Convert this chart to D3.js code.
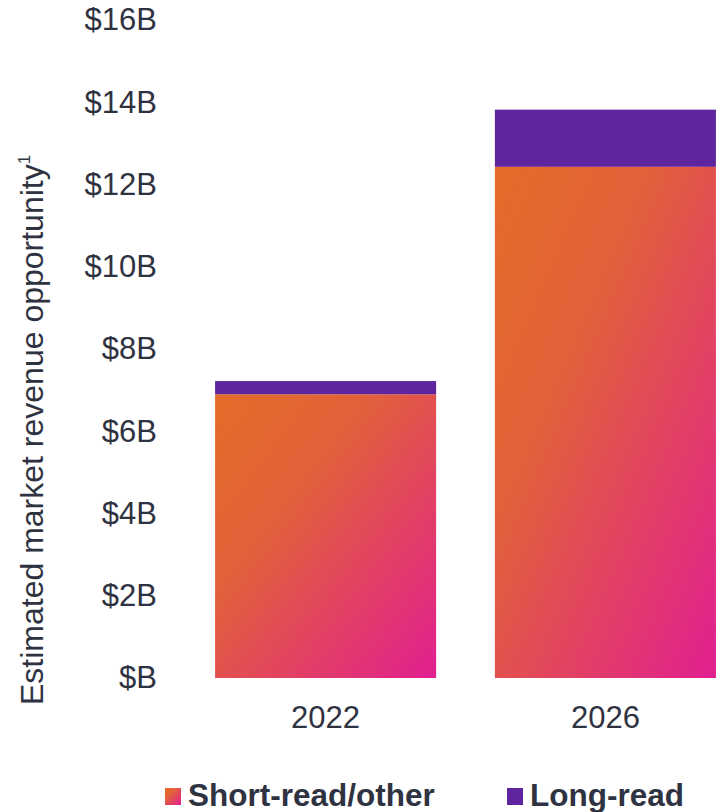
<!DOCTYPE html>
<html>
<head>
<meta charset="utf-8">
<script src="https://cdn.jsdelivr.net/npm/d3@7"></script>
<style>
  body { margin: 0; background: #fff; }
  text { font-family: "Liberation Sans", Arial, sans-serif; fill: #2f3341; }
</style>
</head>
<body>
<div id="chart"></div>
<script>
// chart values
var years = ["2022", "2026"]
var shortRead = [6.9, 12.43]
var longRead = [0.32, 1.39]
var yTicks = [0, 2, 4, 6, 8, 10, 12, 14, 16]
var seriesNames = ["Short-read/other", "Long-read"]

var W = 721, H = 812
var svg = d3.select("#chart").append("svg")
    .attr("width", W)
    .attr("height", H)

// gradient for the short-read bars
var defs = svg.append("defs")
var grad = defs.append("linearGradient")
    .attr("id", "shortGrad")
    .attr("x1", 0).attr("y1", 0).attr("x2", 1).attr("y2", 1)
grad.append("stop").attr("offset", "0%").attr("stop-color", "#e46c28")
grad.append("stop").attr("offset", "35%").attr("stop-color", "#e2613a")
grad.append("stop").attr("offset", "100%").attr("stop-color", "#e11f90")

var purple = "#5e259f"

var y = d3.scaleLinear().domain([0, 16]).range([678, 20])
var x = d3.scaleBand().domain(years).range([205, 726])
    .paddingInner(0.21).paddingOuter(0.036)

// y axis (labels only)
var yAxis = svg.append("g")
    .attr("transform", "translate(157,0)")
    .call(d3.axisLeft(y).tickValues(yTicks).tickSize(0).tickPadding(0)
        .tickFormat(function(d){ return "$" + (d === 0 ? "" : d) + "B" }))
yAxis.select(".domain").remove()
yAxis.selectAll("text")
    .style("font-size", "31px")
    .attr("fill", "#2f3341")

// x axis (labels only)
var xAxis = svg.append("g")
    .attr("transform", "translate(0,678)")
    .call(d3.axisBottom(x).tickSize(0).tickPadding(0))
xAxis.select(".domain").remove()
xAxis.selectAll("text")
    .style("font-size", "31px")
    .attr("fill", "#2f3341")
    .attr("dy", null)
    .attr("y", 50)

// y title
var title = svg.append("text")
    .attr("transform", "translate(43,705) rotate(-90)")
    .attr("text-anchor", "start")
    .style("font-size", "32px")
title.append("tspan").text("Estimated market revenue opportunity")
title.append("tspan").text("1")
    .style("font-size", "17px")
    .attr("dy", -13)

// bars
svg.selectAll(".short")
    .data(years)
    .enter()
    .append("rect")
    .attr("class", "short")
    .attr("x", function(d){ return x(d) })
    .attr("width", x.bandwidth())
    .attr("y", function(d, i){ return y(shortRead[i]) })
    .attr("height", function(d, i){ return y(0) - y(shortRead[i]) })
    .attr("fill", "url(#shortGrad)")

svg.selectAll(".long")
    .data(years)
    .enter()
    .append("rect")
    .attr("class", "long")
    .attr("x", function(d){ return x(d) })
    .attr("width", x.bandwidth())
    .attr("y", function(d, i){ return y(shortRead[i] + longRead[i]) })
    .attr("height", function(d, i){ return y(shortRead[i]) - y(shortRead[i] + longRead[i]) })
    .attr("fill", purple)

// legend
var legX = [165, 507]
var leg = svg.selectAll(".leg")
    .data(seriesNames)
    .enter()
    .append("g")
    .attr("class", "leg")
    .attr("transform", function(d, i){ return "translate(" + legX[i] + ",788)" })
leg.append("rect")
    .attr("width", 16)
    .attr("height", 17)
    .attr("fill", function(d, i){ return i === 0 ? "url(#shortGrad)" : purple })
leg.append("text")
    .attr("x", 23)
    .attr("y", 18)
    .style("font-size", "31.5px")
    .style("font-weight", "bold")
    .text(function(d){ return d })
</script>
</body>
</html>
